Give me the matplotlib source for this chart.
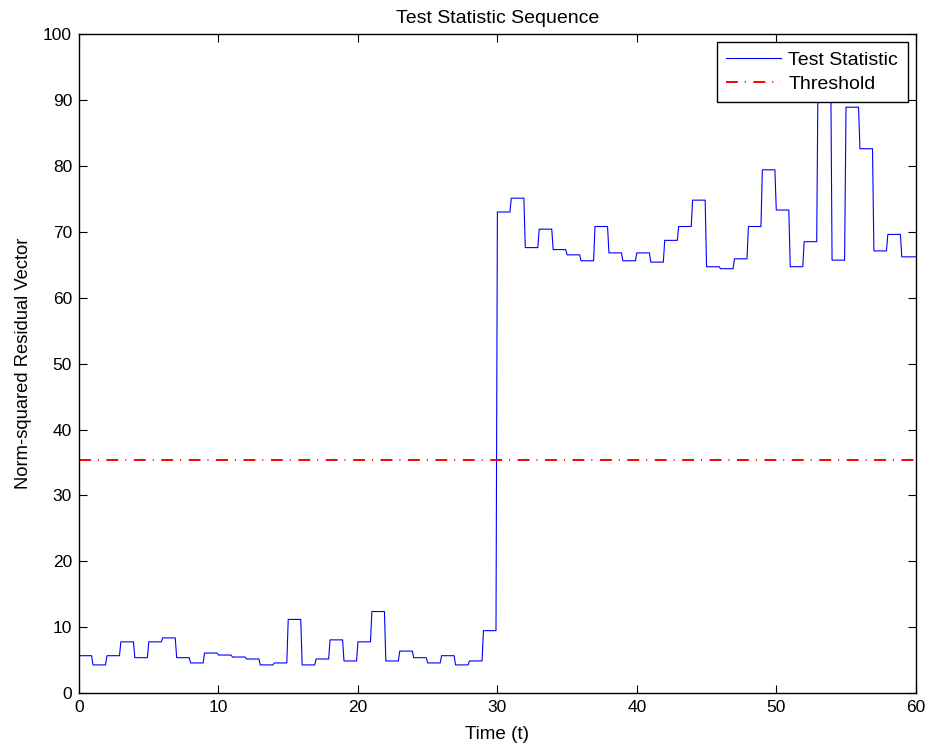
import numpy as np
import matplotlib
matplotlib.use('Agg')
import matplotlib.pyplot as plt

plt.rcParams['font.family'] = ['Liberation Sans', 'DejaVu Sans']

# one value per unit time interval [k, k+1)
stat_values = [5.7, 4.3, 5.7, 7.8, 5.4, 7.8, 8.4, 5.4, 4.6, 6.1,
               5.8, 5.5, 5.2, 4.3, 4.6, 11.2, 4.3, 5.2, 8.1, 4.9,
               7.8, 12.4, 4.9, 6.4, 5.4, 4.6, 5.7, 4.3, 4.9, 9.5,
               73.0, 75.1, 67.6, 70.4, 67.3, 66.5, 65.6, 70.8, 66.8, 65.6,
               66.8, 65.4, 68.7, 70.8, 74.8, 64.7, 64.4, 65.9, 70.8, 79.4,
               73.3, 64.7, 68.5, 96.0, 65.7, 88.9, 82.6, 67.1, 69.6, 66.2]
threshold = 35.4

# sampled time axis, signal held constant on each interval
t = np.arange(0, 60.001, 0.1)
idx = np.minimum(np.floor(t + 1e-9).astype(int), len(stat_values) - 1)
y = np.array(stat_values)[idx]

fig = plt.figure(figsize=(9.31, 7.49), dpi=100)
ax = fig.add_axes([0.0849, 0.0744, 0.8987, 0.8802])

ax.plot(t, y, color='b', lw=0.8, label='Test Statistic')
ax.axhline(threshold, color='r', lw=1.4, dashes=(6.1, 3.6, 0.5, 3.9),
           label='Threshold')

ax.set_xlim(0, 60)
ax.set_ylim(0, 100)
ax.set_xticks(np.arange(0, 61, 10))
ax.set_yticks(np.arange(0, 101, 10))
ax.tick_params(direction='in', top=True, right=True, length=6, width=0.8,
               labelsize=12.5, pad=5)
for s in ax.spines.values():
    s.set_linewidth(1.0)

ax.set_title('Test Statistic Sequence', fontsize=14, pad=8)
ax.set_xlabel('Time (t)', fontsize=13.6, labelpad=8)
ax.set_ylabel('Norm-squared Residual Vector', fontsize=13.2, labelpad=8)

leg = ax.legend(loc='upper right', fontsize=14, fancybox=False, framealpha=1,
                edgecolor='k', borderaxespad=0.4, handlelength=2.8,
                handletextpad=0.4, borderpad=0.5, labelspacing=0.3)
leg.get_frame().set_linewidth(1.0)

fig.savefig('out.png', dpi=100)
